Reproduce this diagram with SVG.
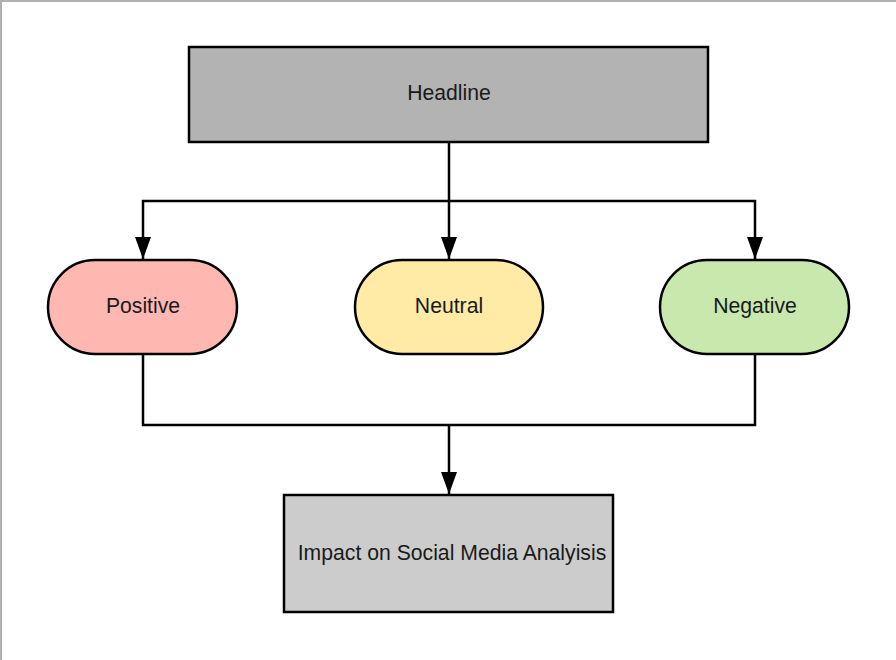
<svg xmlns="http://www.w3.org/2000/svg" width="896" height="660" viewBox="0 0 896 660">
<defs>
<style>
.box{stroke:#000;stroke-width:2.5}
.lbl{font-family:"Liberation Sans",Arial,sans-serif;font-size:21.2px;fill:#1a1a1a;text-anchor:middle;dominant-baseline:central}
.con{fill:none;stroke:#000;stroke-width:2.5}
</style>
<marker id="arrd" markerUnits="userSpaceOnUse" markerWidth="24" markerHeight="16" refX="22" refY="8" orient="auto" viewBox="0 0 24 16">
<path d="M0,0 L22,8 L0,16 Z" fill="#000"/>
</marker>
</defs>
<rect x="0" y="0" width="896" height="660" fill="#fff"/>
<path d="M1,660 V1 H896" fill="none" stroke="#b0b0b0" stroke-width="2"/>
<g id="connectors">
<path class="con" d="M449,142 V201"/>
<path class="con" d="M449,201 H143 V259" marker-end="url(#arrd)"/>
<path class="con" d="M449,201 V259" marker-end="url(#arrd)"/>
<path class="con" d="M449,201 H755 V259" marker-end="url(#arrd)"/>
<path class="con" d="M143,354 V425 H755 V354"/>
<path class="con" d="M449,425 V494" marker-end="url(#arrd)"/>
</g>
<g id="headline">
<rect class="box" x="189" y="47" width="519" height="95" fill="#b3b3b3"/>
<text class="lbl" x="449" y="92">Headline</text>
</g>
<g id="positive">
<rect class="box" x="48" y="260" width="189" height="94" rx="47" ry="47" fill="#ffb7b2"/>
<text class="lbl" x="143" y="305">Positive</text>
</g>
<g id="neutral">
<rect class="box" x="355" y="260" width="188" height="94" rx="47" ry="47" fill="#ffeaa6"/>
<text class="lbl" x="449" y="305">Neutral</text>
</g>
<g id="negative">
<rect class="box" x="660" y="260" width="189" height="94" rx="47" ry="47" fill="#c9e8ad"/>
<text class="lbl" x="755" y="305">Negative</text>
</g>
<g id="impact">
<rect class="box" x="284" y="495" width="329" height="117" fill="#cccccc"/>
<text class="lbl" x="452" y="552">Impact on Social Media Analyisis</text>
</g>
</svg>
